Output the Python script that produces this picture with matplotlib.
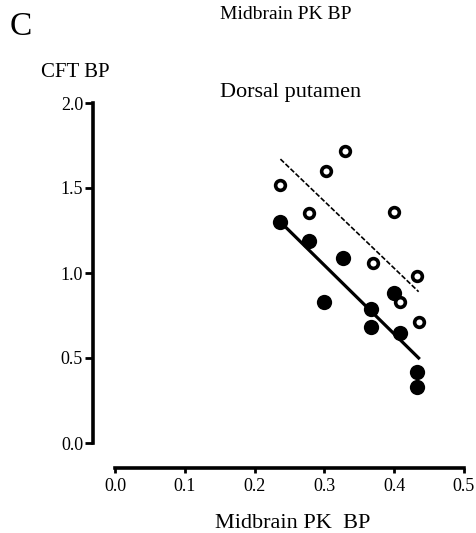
import numpy as np
import matplotlib.pyplot as plt

plt.rcParams['font.family'] = ['Liberation Serif', 'DejaVu Serif']

# values
open_x = [0.237, 0.278, 0.303, 0.329, 0.399, 0.369, 0.409, 0.433, 0.435]
open_y = [1.52, 1.35, 1.60, 1.72, 1.36, 1.06, 0.83, 0.98, 0.71]
filled_x = [0.237, 0.278, 0.326, 0.300, 0.367, 0.367, 0.399, 0.409, 0.432, 0.433]
filled_y = [1.30, 1.19, 1.09, 0.83, 0.79, 0.68, 0.88, 0.65, 0.42, 0.33]
fit_x = [0.237, 0.435]
open_fit_y = [1.67, 0.89]
filled_fit_y = [1.30, 0.50]
xticks = [0.0, 0.1, 0.2, 0.3, 0.4, 0.5]
yticks = [0.0, 0.5, 1.0, 1.5, 2.0]

W, H = 477, 533
fig = plt.figure(figsize=(W / 100, H / 100), dpi=100)
ax = fig.add_axes([115 / W, 1 - 443 / H, (464 - 115) / W, (443 - 103) / H])

# regression lines
ax.plot(fit_x, open_fit_y, color='k', lw=1.2, dashes=(3, 1.2), zorder=2)
ax.plot(fit_x, filled_fit_y, color='k', lw=2.3, zorder=2)

# points
ax.plot(filled_x, filled_y, 'o', ms=11, mfc='k', mec='k', mew=0, ls='none', zorder=3)
ax.plot(open_x, open_y, 'o', ms=7, mfc='white', mec='k', mew=2.6, ls='none', zorder=3)

ax.set_xlim(0, 0.5)
ax.set_ylim(0, 2.0)
ax.set_xticks(xticks)
ax.set_yticks(yticks)
ax.set_xticklabels(['%.1f' % v for v in xticks])
ax.set_yticklabels(['%.1f' % v for v in yticks])

for s in ['top', 'right']:
    ax.spines[s].set_visible(False)
ax.spines['left'].set_position(('outward', 16))
ax.spines['bottom'].set_position(('outward', 18))
ax.spines['left'].set_linewidth(2.6)
ax.spines['bottom'].set_linewidth(2.6)
ax.spines['left'].set_bounds(0, 2.0)
ax.spines['bottom'].set_bounds(0, 0.5)
ax.tick_params(axis='y', direction='out', length=6, width=2, pad=1, labelsize=13)
ax.tick_params(axis='x', direction='out', length=3.5, width=2, pad=4, labelsize=13)

# texts
fig.text(10 / W, 1 - 35 / H, 'C', fontsize=24, ha='left', va='baseline')
fig.text(220 / W, 1 - 19 / H, 'Midbrain PK BP', fontsize=14, ha='left', va='baseline')
fig.text(41 / W, 1 - 77 / H, 'CFT BP', fontsize=15, ha='left', va='baseline')
fig.text(220 / W, 1 - 97 / H, 'Dorsal putamen', fontsize=16, ha='left', va='baseline')
fig.text(215 / W, 1 - 528 / H, 'Midbrain PK  BP', fontsize=16, ha='left', va='baseline')

plt.savefig('out.png', dpi=100)
